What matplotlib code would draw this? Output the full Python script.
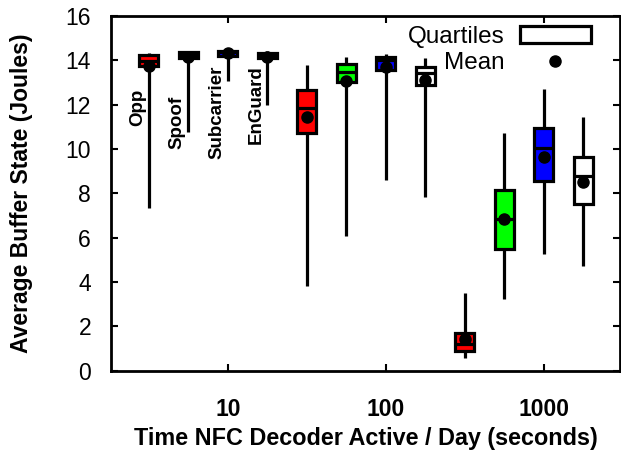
import matplotlib
matplotlib.use("Agg")
import matplotlib.pyplot as plt
from matplotlib.patches import Patch
from matplotlib.lines import Line2D
from matplotlib.ticker import FixedLocator, FixedFormatter, NullLocator

plt.rcParams['font.family'] = ['Liberation Sans', 'DejaVu Sans']

# decoder active time per day (seconds), one group of boxes per value
groups = [10, 100, 1000]
group_ticks = ['10', '100', '1000']

schemes = ['Opp', 'Spoof', 'Subcarrier', 'EnGuard']
colors = ['#ff0000', '#00ff00', '#0000ff', '#ffffff']

# box statistics per scheme, one value per group (Joules)
opp_lo = [7.35, 3.82, 0.59]
opp_q1 = [13.72, 10.73, 0.90]
opp_med = [13.95, 11.84, 1.20]
opp_q3 = [14.22, 12.65, 1.71]
opp_hi = [14.33, 13.78, 3.49]
opp_mean = [13.75, 11.42, 1.42]

spoof_lo = [10.77, 6.08, 3.23]
spoof_q1 = [14.10, 13.00, 5.47]
spoof_med = [14.25, 13.45, 6.82]
spoof_q3 = [14.36, 13.83, 8.14]
spoof_hi = [14.40, 14.15, 10.73]
spoof_mean = [14.15, 13.08, 6.82]

sub_lo = [13.05, 8.58, 5.26]
sub_q1 = [14.18, 13.56, 8.55]
sub_med = [14.35, 14.00, 10.05]
sub_q3 = [14.42, 14.15, 10.94]
sub_hi = [14.50, 14.26, 12.69]
sub_mean = [14.33, 13.68, 9.64]

eng_lo = [11.97, 7.81, 4.73]
eng_q1 = [14.08, 12.86, 7.50]
eng_med = [14.25, 13.40, 8.79]
eng_q3 = [14.33, 13.71, 9.64]
eng_hi = [14.40, 14.08, 11.45]
eng_mean = [14.15, 13.12, 8.49]

stats = [
    (opp_lo, opp_q1, opp_med, opp_q3, opp_hi, opp_mean),
    (spoof_lo, spoof_q1, spoof_med, spoof_q3, spoof_hi, spoof_mean),
    (sub_lo, sub_q1, sub_med, sub_q3, sub_hi, sub_mean),
    (eng_lo, eng_q1, eng_med, eng_q3, eng_hi, eng_mean),
]

offsets = [10 ** -0.5, 10 ** -0.25, 1.0, 10 ** 0.25]  # spread boxes around each decade
half = 10 ** 0.06  # half box width, log scale

fig = plt.figure(figsize=(6.21, 4.51), dpi=100)
ax = fig.add_axes([0.178, 0.178, 0.821, 0.787])
ax.set_xscale('log')

lw = 2.3
for (lo, q1, med, q3, hi, mean), off, col in zip(stats, offsets, colors):
    pos = [g * off for g in groups]
    left = [p / half for p in pos]
    right = [p * half for p in pos]
    ax.vlines(pos, lo, hi, color='black', lw=lw, zorder=2)
    ax.bar(left, [b - a for a, b in zip(q1, q3)], width=[r - l for l, r in zip(left, right)],
           bottom=q1, align='edge', color=col, edgecolor='black', lw=lw, zorder=3)
    ax.hlines(med, left, right, color='black', lw=lw, zorder=4)
    ax.plot(pos, mean, 'o', color='black', ms=8, zorder=5)

# scheme names next to the first group
label_y = [11.87, 11.18, 11.64, 12.0]
for name, off, y in zip(schemes, offsets, label_y):
    ax.annotate(name, xy=(groups[0] * off, y), xytext=(-2, 0), textcoords='offset points',
                rotation=90, ha='right', va='center', fontsize=13.5, fontweight='bold')

ax.set_xlim(1.81, 3060)
ax.set_ylim(0, 16)
ax.xaxis.set_major_locator(FixedLocator(groups))
ax.xaxis.set_major_formatter(FixedFormatter(group_ticks))
ax.xaxis.set_minor_locator(NullLocator())
ax.set_yticks(range(0, 17, 2))

ax.tick_params(direction='in', length=5, width=1.5, top=True, right=True)
ax.tick_params(axis='x', pad=20, labelsize=16.5)
ax.tick_params(axis='y', pad=14, labelsize=16.5)
for t in ax.get_xticklabels():
    t.set_fontweight('bold')
for s in ax.spines.values():
    s.set_linewidth(2)

ax.set_xlabel('Time NFC Decoder Active / Day (seconds)', fontsize=16.8, fontweight='bold', labelpad=4)
ax.set_ylabel('Average Buffer State (Joules)', fontsize=16.5, fontweight='bold')
ax.yaxis.set_label_coords(-0.153, 0.5)

handles = [Patch(facecolor='white', edgecolor='black', lw=lw),
           Line2D([], [], marker='o', color='black', ls='none', ms=8)]
ax.legend(handles, ['Quartiles', 'Mean'], loc='upper right', bbox_to_anchor=(0.962, 1.0),
          frameon=False, markerfirst=False, fontsize=17.5, handlelength=2.95, handleheight=0.7,
          labelspacing=0.2, handletextpad=0.6, borderaxespad=0.0)

fig.savefig('out.png', dpi=100)
